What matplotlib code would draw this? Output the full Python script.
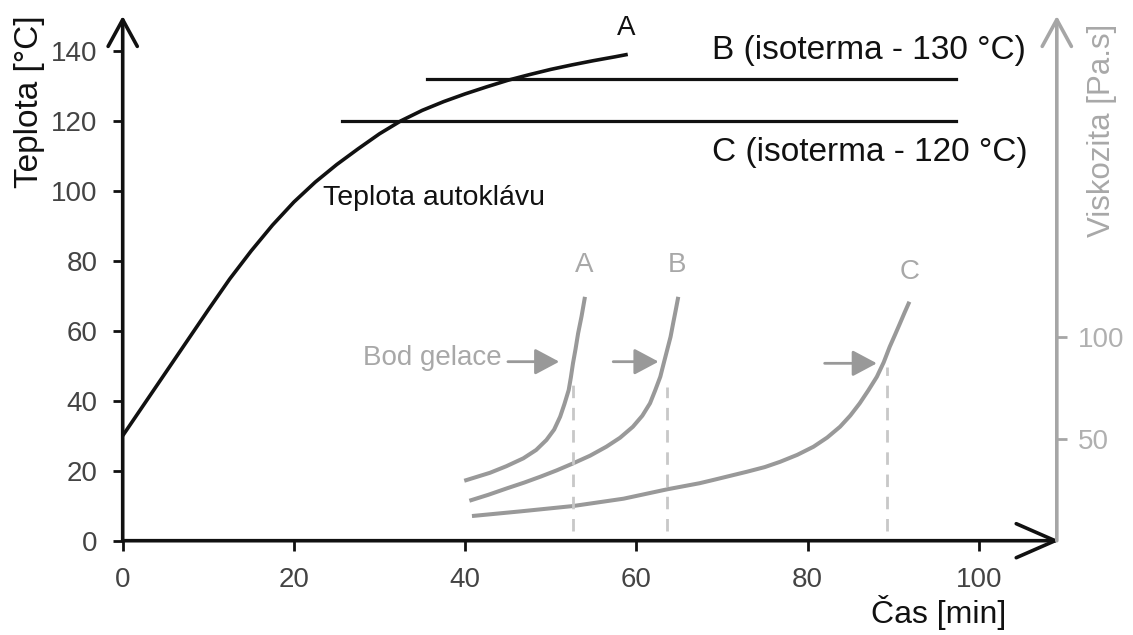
import matplotlib
matplotlib.use("Agg")
import matplotlib.pyplot as plt

plt.rcParams['font.family'] = ['Liberation Sans', 'DejaVu Sans']

# Temperature of autoclave (curve A)
temp_x = [0, 2.5, 5, 7.5, 10, 12.5, 15, 17.5, 20, 22.5, 25, 27.5, 30, 32.5, 35, 37.5,
          40, 42.5, 45, 47.5, 50, 52.5, 55, 57.5, 59]
temp_y = [30, 39, 48, 57, 66, 74.8, 82.8, 90.2, 96.8, 102.5, 107.5, 112, 116.3, 120, 123,
          125.5, 127.7, 129.7, 131.6, 133.2, 134.7, 136, 137.2, 138.3, 139]

# Isotherms (x start, x end, temperature)
iso_B = (35.6, 97.3, 132)
iso_C = (25.6, 97.3, 120)

# Viscosity curves
visc_A_x = [39.9, 42.9, 44.8, 46.8, 48.3, 49.5, 50.4, 51.1, 51.6, 52.1, 52.35, 52.6,
            52.9, 53.2, 53.6, 54.0]
visc_A_y = [29.4, 33.3, 36.5, 40.4, 44.5, 49.4, 54.5, 60.8, 67.0, 73.9, 80.0, 87.0,
            94.0, 101.7, 110.0, 119.6]
visc_B_x = [40.5, 42.7, 44.9, 46.9, 48.8, 50.7, 52.6, 54.6, 56.5, 58.1, 59.6, 60.7,
            61.6, 62.2, 62.8, 63.2, 63.6, 64.0, 64.3, 64.6, 64.9]
visc_B_y = [19.6, 22.5, 25.7, 28.5, 31.4, 34.5, 37.9, 41.7, 46.1, 50.5, 55.9, 61.3,
            67.4, 73.7, 80.4, 87.0, 93.5, 100.0, 106.6, 113.0, 119.6]
visc_C_x = [40.8, 46.5, 52.6, 58.5, 63.6, 67.4, 69.0, 72.9, 75.0, 76.8, 78.8, 80.7,
            82.3, 83.8, 85.0, 86.1, 87.1, 88.1, 88.9, 89.6, 90.2, 90.8, 91.35, 91.9]
visc_C_y = [12.1, 14.4, 17.0, 20.6, 25.2, 28.2, 29.8, 33.8, 36.1, 38.7, 42.1, 46.1,
            50.6, 55.9, 61.4, 67.4, 73.7, 80.4, 87.5, 95.1, 100.8, 106.6, 112.0, 117.2]

gel_x = [52.6, 63.6, 89.3]
gel_top = [76.3, 75.5, 85.3]
gel_bottom = 5
arrow_start = [45.0, 57.3, 82.0]
arrow_end = [51.0, 62.6, 88.1]
arrow_v = [87.8, 87.8, 87.0]

x_ticks = [0, 20, 40, 60, 80, 100]
y_ticks = [0, 20, 40, 60, 80, 100, 120, 140]
v_ticks = [50, 100]

BLACK = '#111111'
GRAY = '#999999'
LGRAY = '#c8c8c8'
TGRAY = '#a8a8a8'

fig = plt.figure(figsize=(11.33, 6.35), dpi=100)
ax = fig.add_axes([0.1083, 0.1485, 0.8311, 0.8265])
ax.set_xlim(0, 110)
ax.set_ylim(0, 150)
for s in ax.spines.values():
    s.set_visible(False)

ax.set_xticks(x_ticks)
ax.set_yticks(y_ticks)
ax.tick_params(axis='both', direction='out', length=7, width=2, color=BLACK,
               labelcolor='#444444', labelsize=20)
ax.tick_params(axis='y', pad=11)
ax.tick_params(axis='x', pad=12)

# axis arrows
ax.annotate('', xy=(0, 1), xytext=(0, 0), xycoords='axes fraction',
            arrowprops=dict(arrowstyle='->,head_length=0.55,head_width=0.3', lw=2.6,
                            color=BLACK, mutation_scale=35, shrinkA=0, shrinkB=0))
ax.annotate('', xy=(0.995, 0), xytext=(0, 0), xycoords='axes fraction',
            arrowprops=dict(arrowstyle='->,head_length=0.8,head_width=0.35', lw=2.6,
                            color=BLACK, mutation_scale=35, shrinkA=0, shrinkB=0))

ax.plot(temp_x, temp_y, color=BLACK, lw=2.6, solid_capstyle='butt', solid_joinstyle='round')
ax.plot([iso_B[0], iso_B[1]], [iso_B[2], iso_B[2]], color=BLACK, lw=2.3)
ax.plot([iso_C[0], iso_C[1]], [iso_C[2], iso_C[2]], color=BLACK, lw=2.3)

ax.text(58.85, 146.5, 'A', fontsize=20, ha='center', va='center', color=BLACK)
ax.text(68.8, 140.2, 'B (isoterma - 130 °C)', fontsize=24, ha='left', va='center', color=BLACK)
ax.text(68.8, 111.0, 'C (isoterma - 120 °C)', fontsize=24, ha='left', va='center', color=BLACK)
ax.text(23.4, 97.9, 'Teplota autoklávu', fontsize=20.5, ha='left', va='center', color=BLACK)

ax.text(-0.0987, 0.836, 'Teplota [°C]', transform=ax.transAxes, rotation=90,
        fontsize=24, ha='center', va='center', color=BLACK)
ax.text(0.867, -0.136, 'Čas [min]', transform=ax.transAxes,
        fontsize=23, ha='center', va='center', color=BLACK)

# viscosity axis
ax2 = ax.twinx()
ax2.set_ylim(0, 257.4)
for s in ax2.spines.values():
    s.set_visible(False)
ax2.spines['right'].set_position(('axes', 0.992))
ax2.set_yticks(v_ticks)
ax2.tick_params(axis='y', direction='out', length=7, width=2, color='#a6a6a6',
                labelcolor='#b0b0b0', labelsize=20, pad=8)
ax2.annotate('', xy=(0.992, 1), xytext=(0.992, 0), xycoords='axes fraction',
             arrowprops=dict(arrowstyle='->,head_length=0.55,head_width=0.3', lw=2.6,
                             color='#a6a6a6', mutation_scale=35, shrinkA=0, shrinkB=0))
ax2.text(1.04, 0.782, 'Viskozita [Pa.s]', transform=ax.transAxes, rotation=90,
         fontsize=22.5, ha='center', va='center', color=TGRAY)

for vx, vy in [(visc_A_x, visc_A_y), (visc_B_x, visc_B_y), (visc_C_x, visc_C_y)]:
    ax2.plot(vx, vy, color=GRAY, lw=2.9, solid_capstyle='butt', solid_joinstyle='round')

for gx, gt in zip(gel_x, gel_top):
    ax2.plot([gx, gx], [gel_bottom, gt], color=LGRAY, lw=2, ls=(0, (4.5, 3.5)))

for xs, xe, v in zip(arrow_start, arrow_end, arrow_v):
    ax2.annotate('', xy=(xe, v), xytext=(xs, v), xycoords='data',
                 arrowprops=dict(arrowstyle='-|>,head_length=0.75,head_width=0.4',
                                 lw=2, color=GRAY, mutation_scale=20,
                                 shrinkA=0, shrinkB=0))

ax2.text(44.3, 89.5, 'Bod gelace', fontsize=20, ha='right', va='center', color=TGRAY)
ax2.text(53.9, 135.1, 'A', fontsize=20, ha='center', va='center', color=TGRAY)
ax2.text(64.8, 135.1, 'B', fontsize=20, ha='center', va='center', color=TGRAY)
ax2.text(91.9, 132.0, 'C', fontsize=20, ha='center', va='center', color=TGRAY)

fig.savefig('out.png', dpi=100)
